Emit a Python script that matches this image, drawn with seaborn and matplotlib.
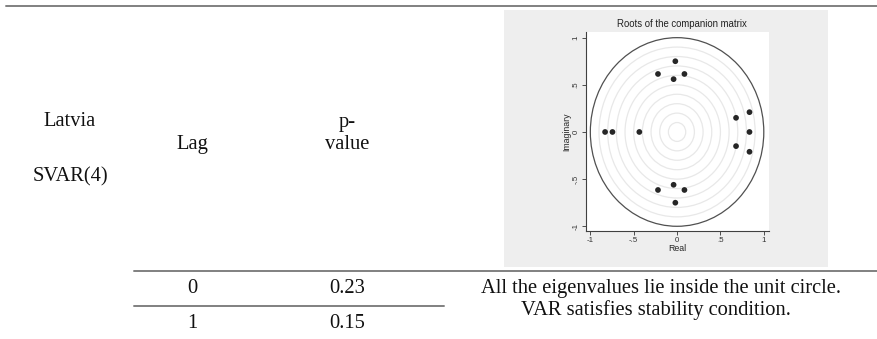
import matplotlib
matplotlib.use("Agg")
import matplotlib.pyplot as plt
from matplotlib.lines import Line2D
from matplotlib.patches import Circle
import seaborn as sns

# ---------------- data ----------------
country = "Latvia"
model_name = "SVAR(4)"
col_lag = "Lag"
col_p_top = "p-"
col_p_bottom = "value"
lags = ["0", "1"]
p_values = ["0.23", "0.15"]
conclusion = ["All the eigenvalues lie inside the unit circle.",
              "VAR satisfies stability condition."]

chart_title = "Roots of the companion matrix"
real_parts = [-0.02, -0.22, 0.085, -0.04, 0.835, 0.68, 0.835, 0.68, 0.835,
              -0.83, -0.745, -0.435, -0.04, -0.22, 0.085, -0.02]
imag_parts = [0.75, 0.615, 0.615, 0.56, 0.21, 0.15, 0.0, -0.15, -0.21,
              0.0, 0.0, 0.0, -0.56, -0.615, -0.615, -0.75]
grid_radii = [0.1, 0.2, 0.3, 0.4, 0.5, 0.6, 0.7, 0.8, 0.9]
unit_radius = 1.0
ticks = [-1, -0.5, 0, 0.5, 1]
tick_labels = ["-1", "-.5", "0", ".5", "1"]
x_label = "Real"
y_label = "Imaginary"

# ---------------- figure ----------------
sns.set_style("white")
plt.rcParams["font.family"] = ["Liberation Serif", "DejaVu Serif"]

W, H = 878, 339
fig = plt.figure(figsize=(W / 100, H / 100), dpi=100)
fig.patch.set_facecolor("white")


def fx(x):
    return x / W


def fy(y):
    return 1 - y / H


# grey graph region (behind the axes)
bg = fig.add_axes([fx(504), fy(267), (828 - 504) / W, (267 - 10) / H], zorder=-1)
bg.set_facecolor("#eeeeee")
bg.set_xticks([])
bg.set_yticks([])
for s in bg.spines.values():
    s.set_visible(False)

ax = fig.add_axes([fx(586), fy(231), (769 - 586) / W, (231 - 32) / H], zorder=1)
ax.set_facecolor("white")
for r in grid_radii:
    ax.add_patch(Circle((0, 0), r, fill=False, ec="#e8e8e8", lw=0.9, zorder=1))
ax.add_patch(Circle((0, 0), unit_radius, fill=False, ec="#505050", lw=0.9, zorder=2))
sns.scatterplot(x=real_parts, y=imag_parts, ax=ax, color="#262626", s=17,
                edgecolor="none", zorder=3)
ax.set_xlim(-1.05, 1.06)
ax.set_ylim(-1.05, 1.06)
ax.set_xticks(ticks)
ax.set_xticklabels(tick_labels, family="Liberation Sans")
ax.set_yticks(ticks)
ax.set_yticklabels(tick_labels, family="Liberation Sans", rotation=90, va="center")
ax.tick_params(direction="out", length=3, width=0.6, labelsize=5.7, pad=1.5,
               colors="#333333", left=True, bottom=True)
for s in ["top", "right"]:
    ax.spines[s].set_visible(False)
for s in ["left", "bottom"]:
    ax.spines[s].set_color("#404040")
    ax.spines[s].set_linewidth(0.8)
ax.set_xlabel(x_label, fontsize=6.3, family="Liberation Sans", labelpad=0)
ax.set_ylabel(y_label, fontsize=6.3, family="Liberation Sans", labelpad=1)
fig.text(fx(682), fy(24), chart_title, ha="center", va="center", fontsize=6.9,
         family="Liberation Sans", color="#222222")

# ---------------- table ----------------
fs = 14.8
tc = "#111111"
fig.text(fx(70), fy(126), country, ha="center", va="baseline", fontsize=fs, color=tc)
fig.text(fx(70), fy(181), model_name, ha="center", va="baseline", fontsize=fs, color=tc)
fig.text(fx(192), fy(149), col_lag, ha="center", va="baseline", fontsize=fs, color=tc)
fig.text(fx(347), fy(127), col_p_top, ha="center", va="baseline", fontsize=fs, color=tc)
fig.text(fx(347), fy(149), col_p_bottom, ha="center", va="baseline", fontsize=fs, color=tc)
row_y = [293, 328]
for lag, pv, yy in zip(lags, p_values, row_y):
    fig.text(fx(192), fy(yy), lag, ha="center", va="baseline", fontsize=fs, color=tc)
    fig.text(fx(347), fy(yy), pv, ha="center", va="baseline", fontsize=fs, color=tc)
fig.text(fx(661), fy(293), conclusion[0], ha="center", va="baseline", fontsize=fs, color=tc)
fig.text(fx(656), fy(315), conclusion[1], ha="center", va="baseline", fontsize=fs, color=tc)

rule_c = "#808080"
for (x0, x1, yy) in [(6, 878, 5.7), (134, 878, 270.8), (134, 444, 306.3)]:
    fig.add_artist(Line2D([fx(x0), fx(x1)], [fy(yy), fy(yy)], transform=fig.transFigure,
                          color=rule_c, lw=1.4))

fig.savefig("out.png", dpi=100)
